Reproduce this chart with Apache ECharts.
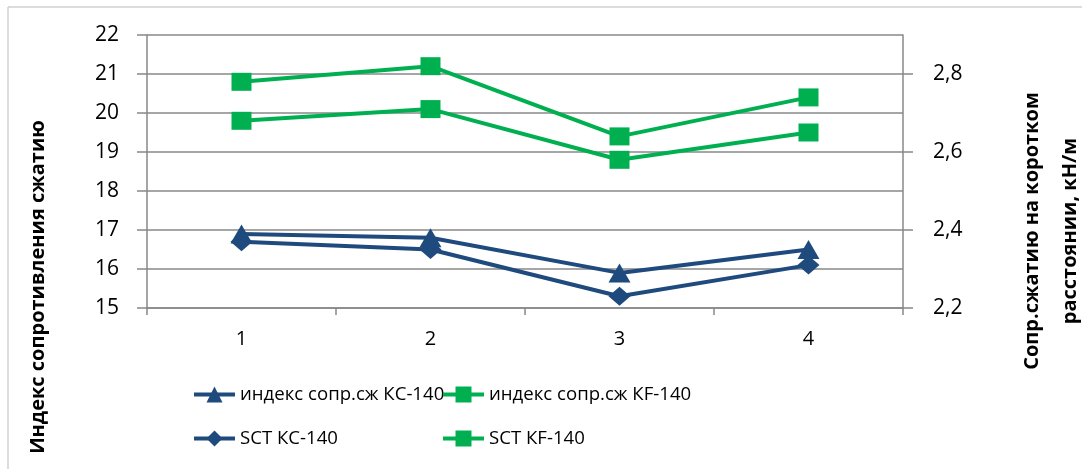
<!DOCTYPE html>
<html><head><meta charset="utf-8">
<script src="https://cdn.jsdelivr.net/npm/echarts@6/dist/echarts.min.js"></script>
<style>html,body{margin:0;padding:0;background:#fff}#c{width:1082px;height:469px}</style>
</head><body><div id="c"></div>
<script>
const categories = ['1', '2', '3', '4'];
const indexKC = [16.9, 16.8, 15.9, 16.5];
const indexKF = [20.8, 21.2, 19.4, 20.4];
const sctKC = [2.37, 2.35, 2.23, 2.31];
const sctKF = [2.68, 2.71, 2.58, 2.65];
const leftTicks = [15, 16, 17, 18, 19, 20, 21, 22];
const rightTicks = [2.2, 2.4, 2.6, 2.8];
const names = ['индекс сопр.сж КС-140', 'индекс сопр.сж КF-140', 'SCT КС-140', 'SCT КF-140'];
const leftTitle = 'Индекс сопротивления сжатию';
const rightTitle = 'Сопр.сжатию на коротком\nрасстоянии, кН/м';

const BLUE = '#1F4A7D', GREEN = '#00B050', GRID = '#888888';
const FONT = '"Open Sans", "DejaVu Sans", sans-serif';
const chart = echarts.init(document.getElementById('c'), null, {renderer: 'canvas'});
const legendText = {fontFamily: FONT, fontSize: 18.6, color: '#000'};
function mk(name, data, color, symbol, size, yIdx) {
  return {name, type: 'line', data, yAxisIndex: yIdx, symbol, symbolSize: size,
    lineStyle: {color, width: 4}, itemStyle: {color, borderWidth: 0},
    emphasis: {disabled: true}, animation: false, z: 3};
}
chart.setOption({
  animation: false,
  grid: {left: 147, right: 179, top: 35, bottom: 161, containLabel: false},
  legend: [
    {orient: 'vertical', left: 187, top: 380, itemGap: 25, itemWidth: 41, itemHeight: 20,
     lineStyle: {width: 4}, data: [names[0], names[2]], textStyle: legendText, selectedMode: false},
    {orient: 'vertical', left: 436, top: 380, itemGap: 25, itemWidth: 41, itemHeight: 20,
     lineStyle: {width: 4}, data: [names[1], names[3]], textStyle: legendText, selectedMode: false}
  ],
  xAxis: {type: 'category', data: categories, boundaryGap: true,
    axisLine: {lineStyle: {color: GRID, width: 1.5}},
    axisTick: {show: true, length: 7, inside: false, lineStyle: {color: GRID, width: 1.5}},
    axisLabel: {margin: 21, fontFamily: FONT, fontSize: 20, color: '#000'}},
  yAxis: [
    {type: 'value', min: 15, max: 22, interval: 1, position: 'left',
     axisLine: {show: true, lineStyle: {color: GRID, width: 1.5}},
     axisTick: {show: true, length: 10, lineStyle: {color: GRID, width: 1.5}},
     splitLine: {show: true, lineStyle: {color: GRID, width: 1.5}},
     axisLabel: {margin: 28, fontFamily: FONT, fontSize: 21, color: '#000',
       customValues: leftTicks}},
    {type: 'value', min: 2.2, max: 2.9, interval: 0.1, position: 'right',
     axisLine: {show: true, lineStyle: {color: GRID, width: 1.5}},
     axisTick: {show: true, length: 10, lineStyle: {color: GRID, width: 1.5}, customValues: rightTicks},
     splitLine: {show: false},
     axisLabel: {margin: 30, fontFamily: FONT, fontSize: 21, color: '#000', customValues: rightTicks,
       formatter: v => v.toFixed(1).replace('.', ',')}}
  ],
  graphic: [
    {type: 'line', shape: {x1: 8, y1: 7, x2: 1082, y2: 7}, style: {stroke: '#d0d0d0', lineWidth: 1.5}, silent: true},
    {type: 'line', shape: {x1: 8, y1: 7, x2: 8, y2: 469}, style: {stroke: '#d0d0d0', lineWidth: 1.5}, silent: true},
    {type: 'text', x: 38, y: 287, rotation: Math.PI / 2, silent: true,
     style: {text: leftTitle, align: 'center', verticalAlign: 'middle', fill: '#000',
       font: 'bold 20px "Open Sans", "DejaVu Sans", sans-serif'}},
    {type: 'text', x: 1051, y: 231, rotation: Math.PI / 2, silent: true,
     style: {text: rightTitle, align: 'center', verticalAlign: 'middle', fill: '#000', lineHeight: 38,
       font: 'bold 20px "Open Sans", "DejaVu Sans", sans-serif'}}
  ],
  series: [
    mk(names[0], indexKC, BLUE, 'triangle', [22, 19], 0),
    mk(names[1], indexKF, GREEN, 'rect', [20, 18], 0),
    mk(names[2], sctKC, BLUE, 'diamond', [22, 19], 1),
    mk(names[3], sctKF, GREEN, 'rect', [20, 18], 1)
  ]
});
</script></body></html>
